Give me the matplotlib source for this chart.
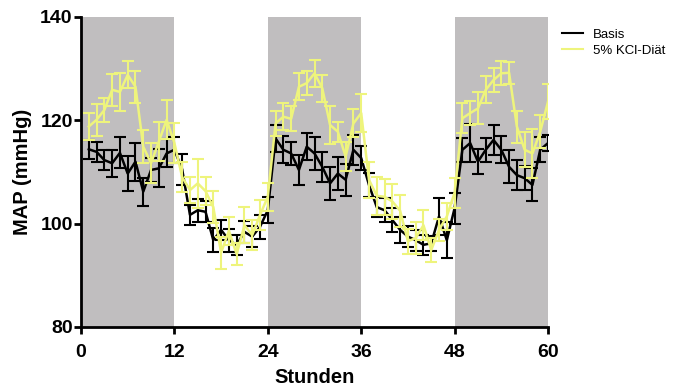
import matplotlib
matplotlib.use("Agg")
import matplotlib.pyplot as plt
import numpy as np
from matplotlib.lines import Line2D

hours = list(range(1, 61))

basis = [114.4, 113.9, 112.3, 111.7, 113.7, 109.7, 112.0, 106.2, 110.4, 110.7, 113.6, 114.3,
         110.5, 101.7, 102.6, 102.3, 96.8, 98.8, 96.8, 95.9, 98.4, 97.5, 99.4, 102.6,
         116.5, 114.3, 113.6, 110.4, 114.9, 113.6, 111.0, 107.8, 109.7, 108.5, 114.3, 112.7,
         107.5, 103.2, 102.6, 100.7, 98.8, 97.5, 96.8, 95.9, 96.2, 101.4, 96.8, 103.0,
         114.3, 115.6, 112.0, 114.3, 116.2, 114.3, 111.0, 109.4, 108.8, 107.5, 114.3, 115.6]
basis_err = [1.8, 1.9, 1.9, 2.6, 3.0, 3.4, 3.7, 2.7, 2.4, 3.7, 2.7, 2.5,
             3.0, 2.0, 2.2, 2.0, 2.3, 2.0, 2.2, 2.0, 2.2, 2.0, 2.3, 2.5,
             2.6, 2.6, 2.3, 2.9, 2.6, 3.2, 2.9, 3.2, 3.2, 3.1, 2.9, 2.3,
             2.3, 2.0, 2.3, 2.3, 2.5, 2.0, 2.0, 2.0, 1.5, 3.5, 3.5, 3.0,
             2.3, 3.7, 2.4, 2.3, 2.9, 2.6, 3.2, 2.9, 2.3, 3.2, 2.4, 1.6]

kcl = [118.8, 120.1, 122.0, 125.9, 125.5, 128.8, 126.5, 114.9, 111.7, 115.9, 120.1, 115.6,
       109.0, 106.5, 107.8, 106.3, 103.2, 94.4, 98.6, 94.1, 99.7, 97.8, 101.7, 105.2,
       119.4, 120.7, 120.3, 126.5, 127.2, 129.1, 126.2, 119.1, 117.8, 113.0, 119.4, 121.4,
       108.5, 105.4, 105.2, 104.3, 102.5, 96.6, 97.2, 99.7, 94.9, 98.8, 101.4, 106.0,
       120.4, 121.4, 122.3, 125.9, 127.8, 129.1, 129.2, 118.8, 114.3, 113.6, 117.8, 123.6]
kcl_err = [2.6, 3.1, 2.4, 3.1, 3.7, 2.6, 3.1, 3.2, 3.9, 3.7, 3.8, 3.9,
           2.9, 2.5, 4.8, 2.7, 3.1, 3.1, 2.7, 2.1, 3.5, 2.9, 2.9, 2.7,
           2.4, 2.6, 2.4, 2.6, 2.3, 2.6, 2.6, 3.7, 1.9, 2.9, 2.7, 3.7,
           3.5, 3.7, 3.5, 3.4, 3.1, 2.4, 3.1, 2.9, 2.3, 2.1, 2.6, 2.9,
           2.9, 2.4, 3.1, 2.6, 2.3, 2.3, 2.1, 3.1, 3.4, 4.8, 3.2, 3.4]

dark_periods = [(0, 12), (24, 36), (48, 60)]
xticks = [0, 12, 24, 36, 48, 60]
yticks = [80, 100, 120, 140]

plt.rcParams['font.family'] = ['Liberation Sans', 'DejaVu Sans']

fig = plt.figure(figsize=(6.74, 3.9), dpi=100)
ax = fig.add_axes([81/674, 63/390, 467/674, 310/390])

for a, b in dark_periods:
    ax.axvspan(a, b, color='#c0bebf', lw=0, zorder=0)

ax.errorbar(hours, basis, yerr=basis_err, color='black', lw=1.8, elinewidth=1.5,
            capsize=4, capthick=1.5, label='Basis', zorder=3)
ax.errorbar(hours, kcl, yerr=kcl_err, color='#eef47c', lw=1.8, elinewidth=1.5,
            capsize=4, capthick=1.5, label='5% KCl-Diät', zorder=4)

ax.set_xlim(0, 60)
ax.set_ylim(80, 140)
ax.set_xticks(xticks)
ax.set_yticks(yticks)
for s in ['top', 'right']:
    ax.spines[s].set_visible(False)
for s in ['left', 'bottom']:
    ax.spines[s].set_linewidth(2)
ax.tick_params(width=2, length=5, labelsize=14)
ax.tick_params(axis='x', pad=7)
ax.tick_params(axis='y', pad=1)
for lab in ax.get_xticklabels() + ax.get_yticklabels():
    lab.set_fontweight('bold')
ax.set_xlabel('Stunden', fontsize=14.5, fontweight='bold', labelpad=5)
ax.set_ylabel('MAP (mmHg)', fontsize=14.5, fontweight='bold', labelpad=6)

handles = [Line2D([], [], color='black', lw=1.5), Line2D([], [], color='#eef47c', lw=1.5)]
fig.legend(handles, ['Basis', '5% KCl-Diät'], loc='upper left',
           bbox_to_anchor=(557/674, 1 - 23/390), frameon=False, fontsize=9.5,
           handlelength=1.6, handletextpad=0.7, labelspacing=0.3, borderaxespad=0)

fig.savefig('out.png', dpi=100)
